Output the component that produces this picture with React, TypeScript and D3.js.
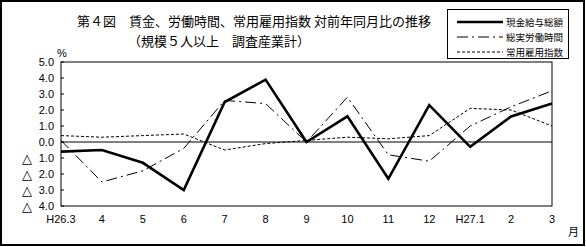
import React from "react";
import * as d3 from "d3";

const categories = ["H26.3", "4", "5", "6", "7", "8", "9", "10", "11", "12", "H27.1", "2", "3"];
const wages = [-0.6, -0.5, -1.3, -3.0, 2.5, 3.9, 0.0, 1.6, -2.3, 2.3, -0.3, 1.6, 2.4];
const hours = [0.1, -2.5, -1.8, -0.4, 2.6, 2.4, 0.0, 2.8, -0.8, -1.2, 1.0, 2.2, 3.2];
const employment = [0.4, 0.3, 0.4, 0.5, -0.5, -0.1, 0.1, 0.3, 0.2, 0.4, 2.1, 2.0, 1.0];
const yTicks = [5, 4, 3, 2, 1, 0, -1, -2, -3, -4];
const legendLabels = ["現金給与総額", "総実労働時間", "常用雇用指数"];

const W = 586, H = 247;
const left = 61, right = 552, top = 62, bottom = 206;

export default function App() {
  const x = d3.scalePoint<string>().domain(categories).range([left, right]);
  const y = d3.scaleLinear().domain([-4, 5]).range([bottom, top]);
  const line = d3
    .line<number>()
    .x((_, i) => x(categories[i]) as number)
    .y((d) => y(d));
  const cjk = "'Noto Sans CJK JP', sans-serif";
  const num = "'Liberation Sans', Arial, sans-serif";
  const series = [
    { data: employment, width: 1, dash: "3,2" },
    { data: hours, width: 1, dash: "11,4,2,4" },
    { data: wages, width: 2.6, dash: undefined as string | undefined },
  ];
  const legendStyles = [
    { width: 2.6, dash: undefined as string | undefined },
    { width: 1, dash: "11,4,2,4" },
    { width: 1, dash: "3,2" },
  ];
  return (
    <svg
      width={W}
      height={H}
      style={{ position: "absolute", left: 0, top: 0, background: "#fff" }}
    >
      <rect x={1} y={1} width={W - 3} height={H - 3} fill="#fff" stroke="#000" strokeWidth={2} />
      <text x={254} y={26} textAnchor="middle" fontFamily={cjk} fontSize={13} fill="#000">
        第４図　賃金、労働時間、常用雇用指数 対前年同月比の推移
      </text>
      <text x={128} y={46} fontFamily={cjk} fontSize={13} fill="#000">
        （規模５人以上　調査産業計）
      </text>
      <rect x={447.5} y={9.5} width={121} height={49} fill="#fff" stroke="#000" strokeWidth={1} />
      {legendLabels.map((lab, i) => (
        <g key={lab}>
          <line
            x1={457}
            x2={503}
            y1={22 + i * 15}
            y2={22 + i * 15}
            stroke="#000"
            strokeWidth={legendStyles[i].width}
            strokeDasharray={legendStyles[i].dash}
          />
          <text x={506} y={26 + i * 15} fontFamily={cjk} fontSize={9.5} fill="#000">
            {lab}
          </text>
        </g>
      ))}
      <rect x={left} y={top} width={right - left} height={bottom - top} fill="none" stroke="#000" strokeWidth={1} />
      <line x1={left} x2={right} y1={y(0)} y2={y(0)} stroke="#000" strokeWidth={1} />
      {yTicks.map((t) => (
        <g key={t}>
          <line x1={left} x2={left + 3} y1={y(t)} y2={y(t)} stroke="#000" strokeWidth={1} />
          {t < 0 && (
            <text x={22} y={y(t) + 4.5} fontFamily="'DejaVu Sans', sans-serif" fontSize={13} fill="#000">
              △
            </text>
          )}
          <text x={54} y={y(t) + 4} textAnchor="end" fontFamily={num} fontSize={11} fill="#000">
            {Math.abs(t).toFixed(1)}
          </text>
        </g>
      ))}
      <text x={57} y={57} fontFamily={num} fontSize={11} fill="#000">%</text>
      {categories.map((c) => (
        <text key={c} x={x(c)} y={223} textAnchor="middle" fontFamily={num} fontSize={11} fill="#000">
          {c}
        </text>
      ))}
      <text x={568} y={236} fontFamily={cjk} fontSize={11} fill="#000">月</text>
      {series.map((s, i) => (
        <path
          key={i}
          d={line(s.data) as string}
          fill="none"
          stroke="#000"
          strokeWidth={s.width}
          strokeDasharray={s.dash}
          strokeLinejoin="miter"
        />
      ))}
    </svg>
  );
}
